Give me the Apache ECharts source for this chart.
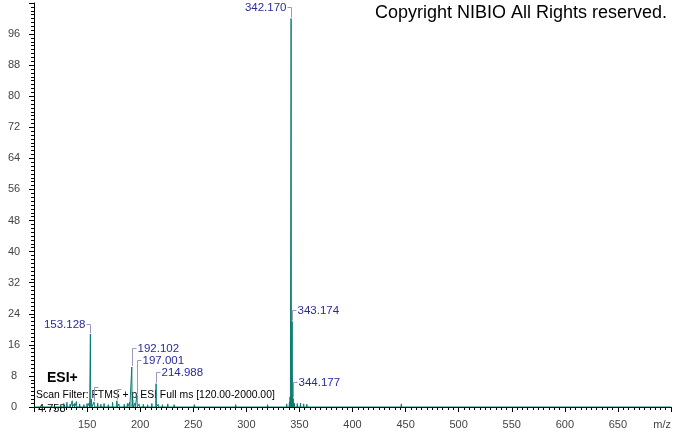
<!DOCTYPE html>
<html>
<head>
<meta charset="utf-8">
<script src="https://cdn.jsdelivr.net/npm/echarts@6/dist/echarts.min.js"></script>
<style>
html,body{margin:0;padding:0;background:#fff;}
#main{width:674px;height:434px;}
</style>
</head>
<body>
<div id="main"></div>
<script>
// ---- data ----
const peakMz = [125, 128, 131, 134, 136, 138, 140, 143, 147, 150, 152.1, 153.128, 154.13, 156.6, 160, 163, 166, 170, 174, 178.1, 180, 185, 188, 190, 192.102, 193.1, 195, 197.001, 199, 203, 207, 211, 214.988, 217, 221, 226, 232, 240, 251, 262, 275, 290, 305, 320, 338, 340.6, 341.2, 342.170, 343.174, 344.177, 345.2, 348, 351, 354, 357, 362, 446];
const peakIntensity = [0.6, 0.9, 1.2, 0.7, 1.6, 0.9, 1.4, 0.8, 0.6, 0.9, 1.1, 18.8, 2.0, 1.3, 1.0, 0.7, 0.9, 0.6, 1.2, 1.6, 0.8, 0.7, 0.9, 1.2, 10.3, 1.8, 1.0, 3.0, 0.8, 0.7, 0.6, 0.9, 6.0, 0.7, 0.6, 0.8, 0.6, 0.5, 0.6, 0.5, 0.5, 0.6, 0.5, 0.6, 0.8, 1.2, 2.6, 100, 22.0, 2.2, 1.0, 0.9, 1.0, 0.8, 0.7, 0.5, 0.8];
const annotMz = [342.170, 343.174, 344.177, 153.128, 192.102, 197.001, 214.988, 156.6, 178.1];
const annotText = ['342.170', '343.174', '344.177', '153.128', '192.102', '197.001', '214.988', '', ''];
const yTickValues = [0, 8, 16, 24, 32, 40, 48, 56, 64, 72, 80, 88, 96];
const xTickValues = [150, 200, 250, 300, 350, 400, 450, 500, 550, 600, 650];
const xAxisTitle = 'm/z';
const copyrightText = 'Copyright NIBIO All Rights reserved.';
const modeText = 'ESI+';
const filterText = 'Scan Filter: FTMS + p ESI Full ms [120.00-2000.00]';
const rtText = '4.758';

// ---- annotation layout (label heights in axis units, side) ----
const annotLevel = [103, 25, 6.5, 21.4, 15.2, 12.1, 9.0, 5.2, 4.6];
const annotSide = ['left', 'right', 'right', 'left', 'right', 'right', 'right', 'right', 'right'];

// build profile line from peaks
const lineData = [[100, 0]];
peakMz.forEach((m, i) => {
  lineData.push([m - 0.3, 0], [m, peakIntensity[i]], [m + 0.3, 0]);
});
lineData.push([700, 0]);

const annotData = annotMz.map((m, i) => {
  const k = peakMz.indexOf(m);
  return [m, peakIntensity[k], annotLevel[i]];
});

const chart = echarts.init(document.getElementById('main'), null, {renderer: 'canvas'});
const labelFont = 'Liberation Sans, Arial, sans-serif';
chart.setOption({
  animation: false,
  backgroundColor: '#fff',
  grid: {left: 34, right: 2, top: 3, bottom: 27},
  xAxis: {
    type: 'value', min: 100, max: 700, interval: 50,
    axisLine: {lineStyle: {color: '#000', width: 1}},
    axisTick: {length: 5, lineStyle: {color: '#000'}},
    minorTick: {show: true, splitNumber: 10, length: 3, lineStyle: {color: '#000'}},
    splitLine: {show: false},
    axisLabel: {
      color: '#444', fontSize: 11, fontFamily: labelFont, margin: 12,
      showMinLabel: false, alignMaxLabel: 'right',
      formatter: v => v === 700 ? xAxisTitle : (xTickValues.indexOf(v) >= 0 ? String(v) : '')
    }
  },
  yAxis: {
    type: 'value', min: 0, max: 104, interval: 8,
    axisLine: {show: true, lineStyle: {color: '#000', width: 1}},
    axisTick: {show: true, length: 5, lineStyle: {color: '#000'}},
    minorTick: {show: true, splitNumber: 8, length: 3, lineStyle: {color: '#000'}},
    splitLine: {show: false},
    axisLabel: {
      color: '#444', fontSize: 11, fontFamily: labelFont, margin: 20, align: 'center',
      showMaxLabel: false,
      formatter: v => yTickValues.indexOf(v) >= 0 ? String(v) : ''
    }
  },
  series: [
    {
      type: 'line', data: lineData, showSymbol: false, symbol: 'none',
      lineStyle: {color: '#0b7b70', width: 1}, silent: true, z: 2
    },
    {
      type: 'custom', data: annotData, z: 3, silent: true,
      renderItem: (params, api) => {
        const i = params.dataIndex;
        const m = api.value(0), h = api.value(1), lv = api.value(2);
        const top = api.coord([m, h]);
        const lab = api.coord([m, lv]);
        const x = Math.round(top[0]) + 0.5;
        const ly = Math.round(lab[1]) + 0.5;
        const dir = annotSide[i] === 'left' ? -1 : 1;
        const stroke = {stroke: '#9a9ac0', lineWidth: 1};
        return {
          type: 'group',
          children: [
            {type: 'line', shape: {x1: x, y1: top[1] - 1, x2: x, y2: ly}, style: stroke},
            {type: 'line', shape: {x1: x, y1: ly, x2: x + dir * 4, y2: ly}, style: stroke},
            {type: 'text', style: {
              text: annotText[i], x: x + dir * 5, y: ly,
              align: dir < 0 ? 'right' : 'left', verticalAlign: 'middle',
              fill: '#2a2a9c', font: '11.5px ' + labelFont
            }}
          ]
        };
      }
    }
  ],
  graphic: [
    {type: 'text', right: 7, top: 4, style: {text: copyrightText, fill: '#000', font: '18px ' + labelFont}},
    {type: 'text', left: 47, top: 371, style: {text: modeText, fill: '#000', font: 'bold 14px ' + labelFont}},
    {type: 'text', left: 36, top: 390, style: {text: filterText, fill: '#000', font: '10.4px ' + labelFont}},
    {type: 'text', left: 38, top: 403, style: {text: rtText, fill: '#000', font: '11px ' + labelFont}}
  ]
});
</script>
</body>
</html>
